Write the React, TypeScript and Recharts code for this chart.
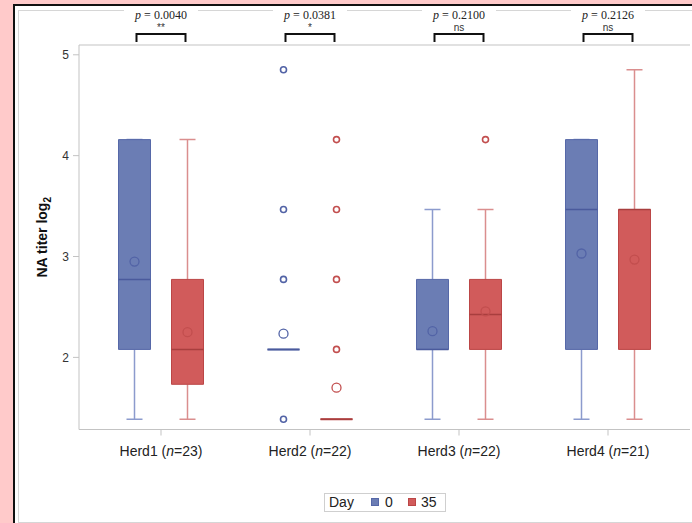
import React from 'react';
import { ComposedChart, Bar, XAxis, YAxis, Label } from 'recharts';

// herds and their annotation text
const herds = ['Herd1', 'Herd2', 'Herd3', 'Herd4'];
const herdN = [23, 22, 22, 21];
const pValues = ['0.0040', '0.0381', '0.2100', '0.2126'];
const signif = ['**', '*', 'ns', 'ns'];
const yTicks = [2, 3, 4, 5];

// Day 0 box statistics (NA titer log2)
const day0Low = [1.386, 2.079, 1.386, 1.386];
const day0Q1 = [2.079, 2.079, 2.079, 2.079];
const day0Median = [2.773, 2.079, 2.079, 3.466];
const day0Q3 = [4.159, 2.079, 2.773, 4.159];
const day0High = [4.159, 2.079, 3.466, 4.159];
const day0Mean = [2.95, 2.235, 2.26, 3.03];
const day0Outliers = [[], [4.852, 3.466, 2.773, 1.386], [], []];

// Day 35 box statistics
const day35Low = [1.386, 1.386, 1.386, 1.386];
const day35Q1 = [1.733, 1.386, 2.079, 2.079];
const day35Median = [2.079, 1.386, 2.426, 3.466];
const day35Q3 = [2.773, 1.386, 2.773, 3.466];
const day35High = [4.159, 1.386, 3.466, 4.852];
const day35Mean = [2.25, 1.7, 2.457, 2.97];
const day35Outliers = [[], [4.159, 3.466, 2.773, 2.079], [4.159], []];

const BLUE = {
  fill: '#6b7db4',
  edge: '#5668a8',
  median: '#4a5a9c',
  whisker: '#8c9bcd',
  mark: '#5263a6',
};
const RED = {
  fill: '#d15b5b',
  edge: '#bb4646',
  median: '#a83e3e',
  whisker: '#da8e8e',
  mark: '#c24e4e',
};

type Stats = { low: number; q1: number; median: number; q3: number; high: number; mean: number; outliers: number[] };

const stats = (i: number, day: 0 | 35): Stats =>
  day === 0
    ? { low: day0Low[i], q1: day0Q1[i], median: day0Median[i], q3: day0Q3[i], high: day0High[i], mean: day0Mean[i], outliers: day0Outliers[i] }
    : { low: day35Low[i], q1: day35Q1[i], median: day35Median[i], q3: day35Q3[i], high: day35High[i], mean: day35Mean[i], outliers: day35Outliers[i] };

const span = (s: Stats): [number, number] => {
  const all = [s.low, s.high, s.mean, ...s.outliers];
  return [Math.min(...all), Math.max(...all)];
};

const data = herds.map((herd, i) => {
  const d0 = stats(i, 0);
  const d35 = stats(i, 35);
  return { herd, n: herdN[i], p: pValues[i], sig: signif[i], d0, d35, range0: span(d0), range35: span(d35) };
});

const makeBox = (key: 'd0' | 'd35', c: typeof BLUE) => (props: any) => {
  const { x, y, width, height, payload } = props;
  const s: Stats = payload[key];
  const [lo, hi] = key === 'd0' ? payload.range0 : payload.range35;
  const toY = (v: number) => y + ((hi - v) / (hi - lo)) * height;
  const cx = x + width / 2;
  const cap = 8;
  const yq1 = toY(s.q1);
  const yq3 = toY(s.q3);
  return (
    <g>
      {s.high > s.low && (
        <g stroke={c.whisker} strokeWidth={1.5}>
          <line x1={cx} x2={cx} y1={toY(s.low)} y2={yq1} />
          <line x1={cx} x2={cx} y1={yq3} y2={toY(s.high)} />
          <line x1={cx - cap} x2={cx + cap} y1={toY(s.low)} y2={toY(s.low)} />
          <line x1={cx - cap} x2={cx + cap} y1={toY(s.high)} y2={toY(s.high)} />
        </g>
      )}
      <path
        d={`M${x},${yq3} H${x + width} V${yq1} H${x} Z`}
        fill={c.fill}
        stroke={c.edge}
        strokeWidth={s.q3 > s.q1 ? 1 : 2}
      />
      <line x1={x} x2={x + width} y1={toY(s.median)} y2={toY(s.median)} stroke={c.median} strokeWidth={1.5} />
      <circle cx={cx} cy={toY(s.mean)} r={4.5} fill="none" stroke={c.mark} strokeWidth={1.3} />
      {s.outliers.map((v, k) => (
        <circle key={k} cx={cx} cy={toY(v)} r={3} fill="none" stroke={c.mark} strokeWidth={1.6} />
      ))}
    </g>
  );
};

const TopTick = (props: any) => {
  const { x, y, index } = props;
  const row = data[index];
  return (
    <g>
      <rect x={x - 37} y={y - 38} width={74} height={15} fill="#fff" />
      <text x={x} y={y - 26} textAnchor="middle" fontFamily="'Liberation Serif', serif" fontSize={12} fill="#222">
        <tspan fontStyle="italic">p</tspan> = {row.p}
      </text>
      <text x={x} y={y - 14} textAnchor="middle" fontFamily="'Liberation Sans', Arial, sans-serif" fontSize={10} fill="#333">
        {row.sig}
      </text>
      <path d={`M${x - 24.5},${y - 3} V${y - 11} H${x + 24.5} V${y - 3}`} stroke="#111" strokeWidth={2} fill="none" />
    </g>
  );
};

const BottomTick = (props: any) => {
  const { x, y, index } = props;
  const row = data[index];
  return (
    <text x={x} y={y + 18} textAnchor="middle" fontFamily="'Liberation Sans', Arial, sans-serif" fontSize={14} fill="#222">
      {row.herd} (<tspan fontStyle="italic">n</tspan>={row.n})
    </text>
  );
};

const YTitle = (props: any) => {
  const vb = props.viewBox || { x: 39, y: 45, width: 40, height: 384 };
  const bx = vb.x + 8;
  const by = vb.y + vb.height / 2;
  return (
    <text
      x={bx}
      y={by}
      transform={`rotate(-90, ${bx}, ${by})`}
      textAnchor="middle"
      fontFamily="'Liberation Sans', Arial, sans-serif"
      fontWeight="bold"
      fontSize={14}
      fill="#111">
      NA titer log<tspan fontSize={10} dy={4}>2</tspan>
    </text>
  );
};

const frameColor = '#c3c3c3';
const textFont = "'Liberation Sans', Arial, sans-serif";

export default function App() {
  return (
    <div style={{ position: 'absolute', left: 0, top: 0, width: 692, height: 523, background: '#ffcaca', overflow: 'hidden' }}>
      <div
        style={{
          position: 'absolute',
          left: 13,
          top: 4,
          width: 720,
          height: 560,
          background: '#fff',
          borderLeft: '2px solid #111',
          borderTop: '2px solid #111',
        }}
      />
      <div
        style={{
          position: 'absolute',
          left: 18,
          top: 10,
          width: 720,
          height: 511,
          border: '1px solid #d6d6d6',
        }}
      />
      <div style={{ position: 'absolute', left: 0, top: 0 }}>
        <ComposedChart
          width={692}
          height={523}
          data={data}
          margin={{ top: 15, right: 2, bottom: 63.5, left: 39 }}
          barSize={32}
          barGap={21}>
          <XAxis
            xAxisId="top"
            orientation="top"
            dataKey="herd"
            height={30}
            padding={{ left: 7.5, right: 7.5 }}
            stroke={frameColor}
            tickLine={false}
            tickSize={0}
            tickMargin={0}
            tick={<TopTick />}
          />
          <XAxis
            dataKey="herd"
            height={30}
            padding={{ left: 7.5, right: 7.5 }}
            stroke={frameColor}
            tickSize={6}
            tickMargin={2}
            tick={<BottomTick />}
          />
          <YAxis
            domain={[1.285, 5.097]}
            ticks={yTicks}
            allowDataOverflow
            width={40}
            stroke={frameColor}
            tickSize={6}
            tickMargin={4}
            tick={{ fill: '#333', fontSize: 12, fontFamily: textFont }}>
            <Label content={<YTitle />} />
          </YAxis>
          <YAxis
            yAxisId="right"
            orientation="right"
            domain={[1.285, 5.097]}
            allowDataOverflow
            width={0}
            stroke={frameColor}
            tick={false}
            tickLine={false}
          />
          <Bar dataKey="range0" shape={makeBox('d0', BLUE)} isAnimationActive={false} />
          <Bar dataKey="range35" shape={makeBox('d35', RED)} isAnimationActive={false} />
        </ComposedChart>
      </div>
      <div
        style={{
          position: 'absolute',
          left: 324,
          top: 493,
          width: 120,
          height: 17,
          border: '1px solid #cfcfcf',
          fontFamily: textFont,
          fontSize: 14,
          color: '#222',
          background: '#fff',
        }}>
        <span style={{ position: 'absolute', left: 4, top: 0, lineHeight: '17px' }}>Day</span>
        <span style={{ position: 'absolute', left: 46, top: 4, width: 6, height: 6, background: BLUE.fill, border: `1px solid ${BLUE.edge}` }} />
        <span style={{ position: 'absolute', left: 60, top: 0, lineHeight: '17px' }}>0</span>
        <span style={{ position: 'absolute', left: 83, top: 4, width: 6, height: 6, background: RED.fill, border: `1px solid ${RED.edge}` }} />
        <span style={{ position: 'absolute', left: 96, top: 0, lineHeight: '17px' }}>35</span>
      </div>
    </div>
  );
}
